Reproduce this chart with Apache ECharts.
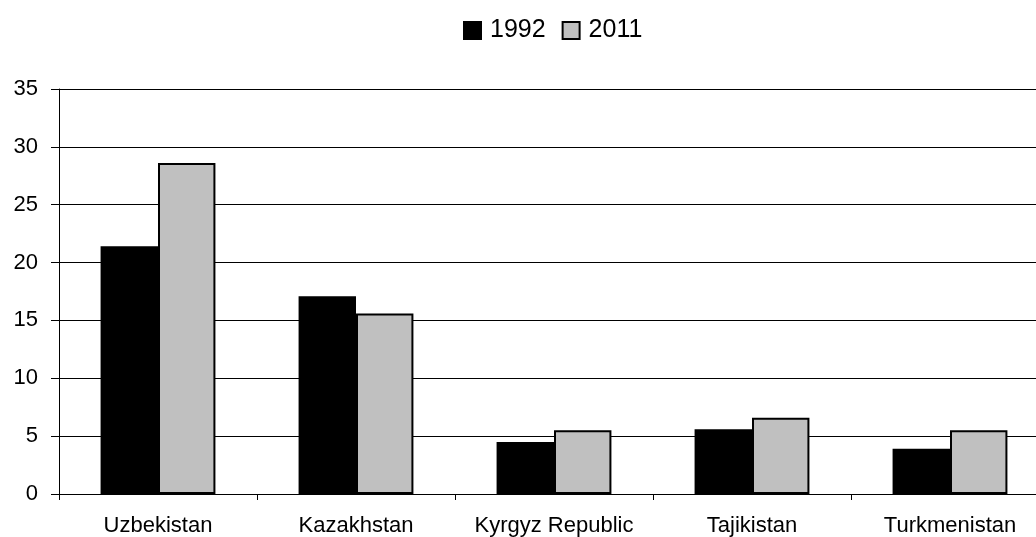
<!DOCTYPE html>
<html><head><meta charset="utf-8">
<script src="https://cdn.jsdelivr.net/npm/echarts@6/dist/echarts.min.js"></script>
<style>html,body{margin:0;padding:0;background:#fff;overflow:hidden;width:1036px;height:537px}#c{width:1052px;height:537px}</style>
</head><body><div id="c"></div>
<script>
const categories = ['Uzbekistan', 'Kazakhstan', 'Kyrgyz Republic', 'Tajikistan', 'Turkmenistan'];
const s1992 = [21.4, 17.1, 4.5, 5.6, 3.9];
const s2011 = [28.6, 15.6, 5.5, 6.6, 5.5];
const yTicks = { min: 0, max: 35, interval: 5 };

const chart = echarts.init(document.getElementById('c'));
const font = 'Liberation Sans, Arial, sans-serif';
chart.setOption({
  animation: false,
  textStyle: { fontFamily: font, color: '#000' },
  legend: {
    left: 458, top: 13,
    itemWidth: 17, itemHeight: 17, itemGap: 16,
    icon: 'rect',
    textStyle: { fontSize: 25, color: '#000', fontFamily: font, padding: [0, 0, 0, 4] },
    data: ['1992', '2011']
  },
  grid: { left: 59, width: 990, top: 89, height: 407, containLabel: false },
  xAxis: {
    type: 'category', data: categories,
    axisLine: { lineStyle: { color: '#000', width: 1 } },
    axisTick: { show: true, length: 6, alignWithLabel: false, lineStyle: { color: '#000' } },
    axisLabel: { color: '#000', fontSize: 22, margin: 21, fontFamily: font, interval: 0 }
  },
  yAxis: {
    type: 'value', min: yTicks.min, max: yTicks.max, interval: yTicks.interval,
    axisLine: { show: true, lineStyle: { color: '#000', width: 1 } },
    axisTick: { show: true, length: 8, lineStyle: { color: '#000' } },
    splitLine: { show: true, lineStyle: { color: '#000', width: 1 } },
    axisLabel: { color: '#000', fontSize: 22, margin: 21, fontFamily: font }
  },
  series: [
    { name: '1992', type: 'bar', data: s1992, barGap: '0%', barCategoryGap: '42%',
      itemStyle: { color: '#000', borderColor: '#000', borderWidth: 2 } },
    { name: '2011', type: 'bar', data: s2011,
      itemStyle: { color: '#c0c0c0', borderColor: '#000', borderWidth: 2 } }
  ]
});
</script></body></html>
